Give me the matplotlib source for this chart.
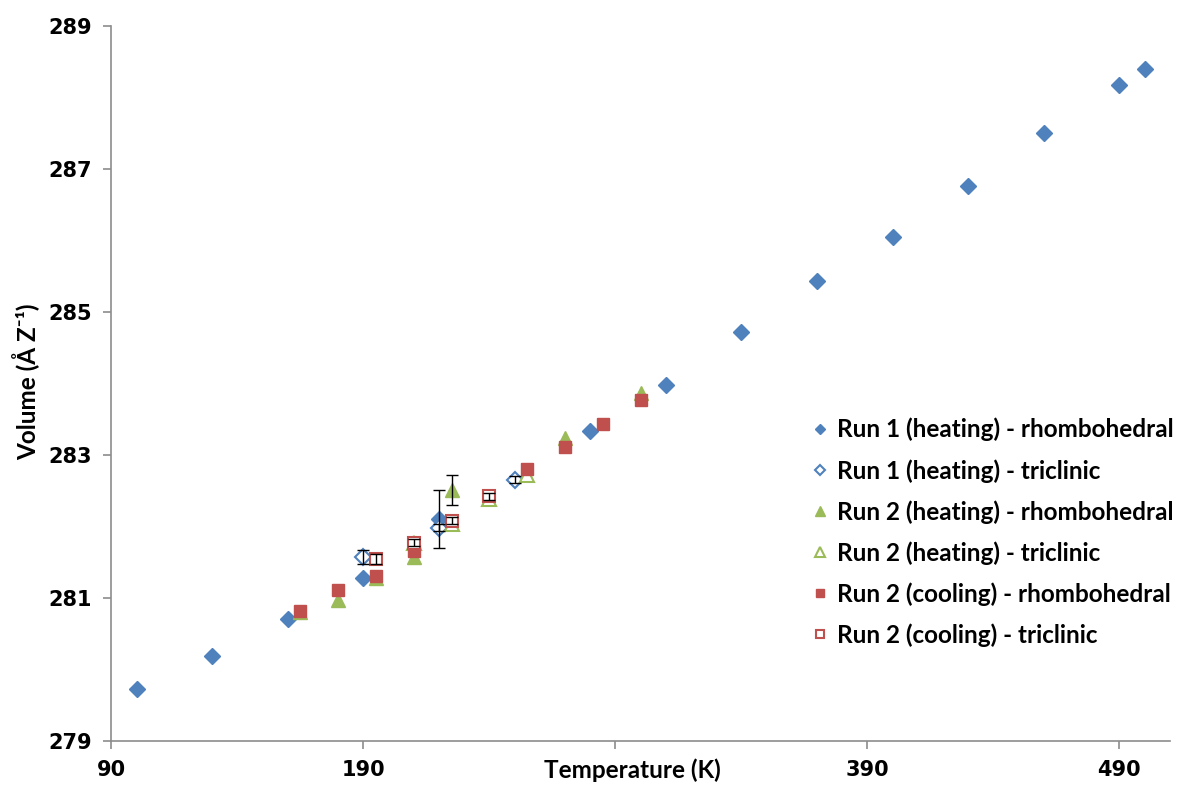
import matplotlib
matplotlib.use('Agg')
import matplotlib.pyplot as plt
import numpy as np

# Run 1 (heating) - rhombohedral
r1_rh_T = [100, 130, 160, 190, 220, 280, 310, 340, 370, 400, 430, 460, 490, 500]
r1_rh_V = [279.72, 280.19, 280.70, 281.28, 282.10, 283.33, 283.98, 284.71,
           285.43, 286.05, 286.76, 287.50, 288.17, 288.40]
r1_rh_err = [0, 0, 0, 0, 0.40, 0, 0, 0, 0, 0, 0, 0, 0, 0]

# Run 1 (heating) - triclinic
r1_tr_T = [190, 220, 250]
r1_tr_V = [281.57, 281.98, 282.65]
r1_tr_err = [0.10, 0.05, 0.05]

# Run 2 (heating) - rhombohedral
r2h_rh_T = [165, 180, 195, 210, 225, 270, 300]
r2h_rh_V = [280.80, 280.97, 281.28, 281.57, 282.50, 283.24, 283.86]
r2h_rh_err = [0, 0, 0, 0, 0.21, 0, 0]

# Run 2 (heating) - triclinic
r2h_tr_T = [210, 225, 240, 255]
r2h_tr_V = [281.77, 282.03, 282.38, 282.72]

# Run 2 (cooling) - rhombohedral
r2c_rh_T = [165, 180, 195, 210, 255, 270, 285, 300]
r2c_rh_V = [280.81, 281.11, 281.30, 281.65, 282.80, 283.11, 283.43, 283.76]

# Run 2 (cooling) - triclinic
r2c_tr_T = [195, 210, 225, 240]
r2c_tr_V = [281.54, 281.77, 282.08, 282.42]
r2c_tr_err = [0.07, 0.05, 0.05, 0.05]

labels = ['Run 1 (heating) - rhombohedral', 'Run 1 (heating) - triclinic',
          'Run 2 (heating) - rhombohedral', 'Run 2 (heating) - triclinic',
          'Run 2 (cooling) - rhombohedral', 'Run 2 (cooling) - triclinic']

blue = '#4F81BD'
green = '#9BBB59'
red = '#C0504D'

fig = plt.figure(figsize=(11.84, 7.87), dpi=100)
ax = fig.add_axes([0.0941, 0.0588, 0.988 - 0.0941, 0.9673 - 0.0588])

ax.plot(r1_rh_T, r1_rh_V, 'D', ms=8, color=blue, mec=blue, label=labels[0], zorder=2)
ax.plot(r1_tr_T, r1_tr_V, 'D', ms=8, mfc='white', mec=blue, mew=1.5, label=labels[1], zorder=3)
ax.plot(r2h_rh_T, r2h_rh_V, '^', ms=10, color=green, mec=green, label=labels[2], zorder=4)
ax.plot(r2h_tr_T, r2h_tr_V, '^', ms=10, mfc='white', mec=green, mew=1.5, label=labels[3], zorder=5)
ax.plot(r2c_rh_T, r2c_rh_V, 's', ms=9, color=red, mec=red, label=labels[4], zorder=6)
ax.plot(r2c_tr_T, r2c_tr_V, 's', ms=9, mfc='white', mec=red, mew=1.5, label=labels[5], zorder=7)

# error bars (only where given)
for T, V, E in [(r1_rh_T, r1_rh_V, r1_rh_err), (r1_tr_T, r1_tr_V, r1_tr_err),
                (r2h_rh_T, r2h_rh_V, r2h_rh_err), (r2c_tr_T, r2c_tr_V, r2c_tr_err)]:
    T = np.array(T); V = np.array(V); E = np.array(E)
    m = E > 0
    ax.errorbar(T[m], V[m], yerr=E[m], fmt='none', ecolor='black',
                elinewidth=1, capsize=4, capthick=1, zorder=8)

ax.set_xlim(90, 510)
ax.set_ylim(279, 289)
ax.set_xticks([90, 190, 290, 390, 490])
ax.set_xticklabels(['90', '190', '', '390', '490'])
ax.set_yticks([279, 281, 283, 285, 287, 289])

for s in ['top', 'right']:
    ax.spines[s].set_visible(False)
for s in ['left', 'bottom']:
    ax.spines[s].set_color('#8c8c8c')
    ax.spines[s].set_linewidth(1.2)
ax.tick_params(axis='both', direction='out', length=6, width=1.2, color='#8c8c8c',
               labelsize=15, pad=8)
for t in ax.get_xticklabels() + ax.get_yticklabels():
    t.set_fontweight('bold')
    t.set_family('DejaVu Sans')

fig.text(632 / 1184, 1 - 770 / 787, 'Temperature (K)', ha='center', va='center',
         fontsize=17.5, fontweight='bold', family=['Lato', 'DejaVu Sans'])
fig.text(26 / 1184, 1 - 382 / 787, 'Volume (Å Z⁻¹)', ha='center', va='center', rotation=90,
         fontsize=17.5, fontweight='bold', family=['Lato', 'DejaVu Sans'])

leg = ax.legend(loc='upper left', bbox_to_anchor=(790 / 1184, 1 - 396 / 787),
                bbox_transform=fig.transFigure, frameon=False, markerscale=0.7,
                handlelength=0.7, handletextpad=0.35, labelspacing=0.72,
                prop={'family': 'Lato', 'weight': 'bold', 'size': 17.5})

fig.savefig('out.png', dpi=100)
